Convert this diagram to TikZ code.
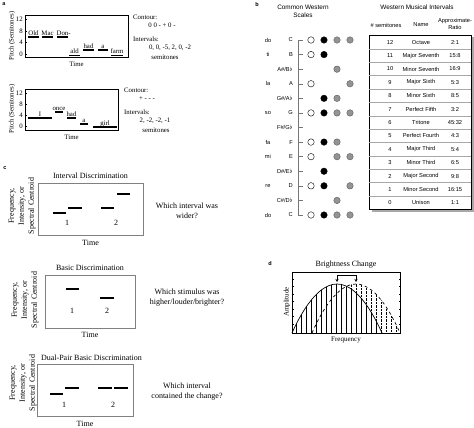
\documentclass[tikz,border=0pt]{standalone}
\usepackage{fontspec}
\setmainfont{Liberation Serif}
\newfontfamily\arialfont{Liberation Sans}
\usepackage{tikz}
\usetikzlibrary{arrows.meta,positioning}
\definecolor{dotgray}{rgb}{0.58,0.58,0.58}
\definecolor{framegray}{rgb}{0.50,0.50,0.50}
\definecolor{rulegray}{rgb}{0.66,0.66,0.66}
\newcommand{\fsa}{\fontsize{6.8}{7.5}\selectfont}
\newcommand{\fsc}{\fontsize{8}{10}\selectfont}
\newcommand{\fsb}{\fontsize{5.7}{6.5}\selectfont\arialfont}
\newcommand{\fsbt}{\fontsize{6.4}{8}\selectfont\arialfont}

\begin{document}
\begin{tikzpicture}[x=1pt,y=-1pt,
    panel/.style={font=\fontsize{5.5}{6}\selectfont\arialfont\bfseries,inner sep=0pt},
    pitchbox/.style={draw,line width=0.5pt,inner sep=0pt},
    taskbox/.style={draw=framegray,line width=0.9pt,inner sep=0pt},
    note/.style={line width=1.2pt},
    tone/.style={line width=1.3pt},
    word/.style={font=\fsa,inner sep=0pt,anchor=base},
    ticklab/.style={font=\fsa,inner sep=0pt,anchor=east},
    txta/.style={font=\fsa,inner sep=0pt},
    txtc/.style={font=\fsc,inner sep=0pt,align=center},
    scaledot/.style={circle,draw,line width=0.4pt,minimum size=6.5pt,inner sep=0pt},
    cell/.style={font=\fsb,inner sep=0pt}]
\useasboundingbox (0,0) rectangle (474,428);

% ---------- panel a ----------
\node[panel] (la) at (4,4) {a};
\node[pitchbox,minimum width=103pt,minimum height=42pt] (boxa) at (76.5,36) {};
\node[txta,rotate=90] (pitcha) at (12,36) {Pitch (Semitones)};
\foreach \v/\yy in {12/19.5,8/31,4/42.5,0/54} {
  \node[ticklab] (ta\v) at (23,\yy) {\v};
  \draw[line width=0.4pt] (25,\yy) -- (27,\yy);
}
\foreach \xa/\xb/\yy/\w [count=\i] in {28/39/37/Old,42/53/37/Mac,57/68/37/Don\rlap{-},
    69/80/55.5/ald,83/94/50/had,98/108/50/a,111/123/55.5/farm} {
  \draw[note] (\xa,\yy) -- (\xb,\yy);
  \node[word] (wa\i) at ({(\xa+\xb)/2},{\yy-1.8}) {\w};
}
\node[txta,below=4.5pt of boxa] (timea) {Time};
\node[txta,anchor=west] (cona) at (133,17) {Contour:};
\node[txta] (cva) at (162,25) {0 0 - + 0 -};
\node[txta,anchor=west] (inta) at (133,39) {Intervals:};
\node[txta] (iva) at (170,48) {0, 0, -5, 2, 0, -2};
\node[txta] (sma) at (165,57) {semitones};

\node[pitchbox,minimum width=93pt,minimum height=41pt] (boxb) at (71.5,109.5) {};
\node[txta,rotate=90] (pitchb) at (12,109) {Pitch (Semitones)};
\foreach \v/\yy in {12/93,8/104,4/115,0/126} {
  \node[ticklab] (tb\v) at (23,\yy) {\v};
  \draw[line width=0.4pt] (25,\yy) -- (27,\yy);
}
\foreach \xa/\xb/\yy/\w [count=\i] in {28/52/118/I,55/63/112/once,67/76/118/had,
    80/88/124/a,93/117/127/girl} {
  \draw[note] (\xa,\yy) -- (\xb,\yy);
  \node[word] (wb\i) at ({(\xa+\xb)/2},{\yy-1.8}) {\w};
}
\node[txta,below=4.5pt of boxb] (timeb) {Time};
\node[txta,anchor=west] (conb) at (124,90) {Contour:};
\node[txta] (cvb) at (147,99) {+ - - -};
\node[txta,anchor=west] (intb) at (124,112) {Intervals:};
\node[txta] (ivb) at (155,121) {2, -2, -2, -1};
\node[txta] (smb) at (156,130) {semitones};

% ---------- panel b ----------
\node[panel] (lb) at (257,5) {b};
\node[font=\fsbt,align=center,inner sep=0pt] (scales) at (303,11) {Common Western\\Scales};
\foreach \nt [count=\i from 0] in {C,B,{A\#/B$\flat$},A,{G\#/A$\flat$},G,{F\#/G$\flat$},
    F,E,{D\#/E$\flat$},D,{C\#/D$\flat$},C} {
  \node[cell,anchor=east] (nt\i) at (293,{40+14.583*\i}) {\nt};
  \draw[rulegray!70!black,line width=0.4pt] (298,{40+14.583*\i}) -- (303,{40+14.583*\i});
}
\draw[rulegray!70!black,line width=0.4pt] (298,40) -- (298,215);
\foreach \sf/\i in {do/0,ti/1,la/3,so/5,fa/7,mi/8,re/10,do/12}
  \node[cell] (sf\i) at (268,{40+14.583*\i}) {\sf};
\foreach \i in {0,1,3,5,7,8,10,12}
  \node[scaledot,fill=white] (ma\i) at (311,{40+14.583*\i}) {};
\foreach \i in {0,1,4,5,7,9,10,12}
  \node[scaledot,fill=black] (mi\i) at (324,{40+14.583*\i}) {};
\foreach \i in {0,2,4,5,7,8,11,12}
  \node[scaledot,fill=dotgray,draw=dotgray!60!black] (ot\i) at (337,{40+14.583*\i}) {};
\foreach \i in {0,3,5,8,10,12}
  \node[scaledot,fill=dotgray,draw=dotgray!60!black] (pe\i) at (350,{40+14.583*\i}) {};

\node[font=\fsbt,inner sep=0pt] (intv) at (417,7) {Western Musical Intervals};
\node[cell] (hnum) at (386,25) {\# semitones};
\node[cell] (hname) at (421,25) {Name};
\node[cell,align=center] (hrat) at (455,24) {Approximate-\\Ratio};
\fill[rulegray] (371.5,37.5) rectangle (473.5,211.5);
\node[draw,fill=white,line width=0.4pt,minimum width=102pt,minimum height=174pt,
      inner sep=0pt] (tab) at (420,122.5) {};
\foreach \i in {1,...,12}
  \draw[rulegray,line width=0.5pt] (369.3,{35.5+13.385*\i}) -- (470.7,{35.5+13.385*\i});
\foreach \n/\nm/\r [count=\i from 0] in {12/Octave/2:1,11/Major Seventh/15:8,
    10/Minor Seventh/16:9,9/Major Sixth/5:3,8/Minor Sixth/8:5,7/Perfect Fifth/3:2,
    6/Tritone/45:32,5/Perfect Fourth/4:3,4/Major Third/5:4,3/Minor Third/6:5,
    2/Major Second/9:8,1/Minor Second/16:15,0/Unison/1:1} {
  \node[cell] (num\i) at (390,{42.2+13.385*\i}) {\n};
  \node[cell] (nam\i) at (421,{42.2+13.385*\i}) {\nm};
  \node[cell] (rat\i) at (455,{42.2+13.385*\i}) {\r};
}

% ---------- panel c ----------
\node[panel] (lc) at (5,168) {c};
\node[taskbox,minimum width=105pt,minimum height=52pt] (boxc1) at (90.5,209) {};
\node[txtc,above=3.5pt of boxc1] (titc1) {Interval Discrimination};
\node[txtc,below=4.5pt of boxc1] (timec1) {Time};
\node[txtc,rotate=90] (yc1) at (22,206) {Frequency,\\Intensity, or\\Spectral Centroid};
\node[txtc] (qc1) at (187,210.5) {Which interval was\\wider?};
\foreach \xa/\xb/\yy in {53/66/213,68/82/208,101/114/208,117/130/194}
  \draw[tone] (\xa,\yy) -- (\xb,\yy);
\node[txtc] (oc1) at (67,223) {1};
\node[txtc] (tc1) at (116,223) {2};

\node[taskbox,minimum width=90pt,minimum height=53pt] (boxc2) at (90,301.5) {};
\node[txtc,above=4pt of boxc2] (titc2) {Basic Discrimination};
\node[txtc,below=3.5pt of boxc2] (timec2) {Time};
\node[txtc,rotate=90] (yc2) at (25,300) {Frequency,\\Intensity, or\\Spectral Centroid};
\node[txtc] (qc2) at (187,297.5) {Which stimulus was\\higher/louder/brighter?};
\foreach \xa/\xb/\yy in {66/79/289,100/114/298}
  \draw[tone] (\xa,\yy) -- (\xb,\yy);
\node[txtc] (oc2) at (72,311) {1};
\node[txtc] (tc2) at (107,311) {2};

\node[taskbox,minimum width=96pt,minimum height=52pt] (boxc3) at (85,390) {};
\node[txtc,above=3pt of boxc3,xshift=6.5pt] (titc3) {Dual-Pair Basic Discrimination};
\node[txtc,below=4.5pt of boxc3] (timec3) {Time};
\node[txtc,rotate=90] (yc3) at (23,383) {Frequency,\\Intensity, or\\Spectral Centroid};
\node[txtc] (qc3) at (187,391.5) {Which interval\\contained the change?};
\foreach \xa/\xb/\yy in {50/63/394,65/79/388,98/112/388,114/128/388}
  \draw[tone] (\xa,\yy) -- (\xb,\yy);
\node[txtc] (oc3) at (64,405) {1};
\node[txtc] (tc3) at (113,405) {2};

% ---------- panel d ----------
\node[panel] (ld) at (270,264) {d};
\node[pitchbox,minimum width=108pt,minimum height=61pt] (boxd) at (346,302.5) {};
\node[txtc,above=3pt of boxd] (titd) {Brightness Change};
\node[font=\fontsize{7}{8}\selectfont,inner sep=0pt,below=3.5pt of boxd] (freqd) {Frequency};
\node[font=\fontsize{7}{8}\selectfont,inner sep=0pt,rotate=90] (ampd) at (287,302) {Amplitude};
\foreach \yy in {279,286.5,...,330} {
  \draw[line width=0.3pt] (292,\yy) -- (293.5,\yy);
  \draw[line width=0.3pt] (400,\yy) -- (398.5,\yy);
}
\begin{scope}
  \clip (312,333) parabola bend (356,284) (400,333) -- cycle;
  \foreach \x in {296,301,...,396}
    \draw[densely dotted,line width=0.4pt] (\x,333) -- (\x,282);
\end{scope}
\begin{scope}
  \clip (292,333) parabola bend (337,284) (382,333) -- cycle;
  \foreach \x in {296,301,...,396}
    \draw[line width=0.4pt] (\x,333) -- (\x,282);
\end{scope}
\draw[line width=0.7pt] (292,333) parabola bend (337,284) (382,333);
\draw[line width=0.7pt,dashed] (312,333) parabola bend (356,284) (400,333);
\coordinate (peak1) at (337,282);
\coordinate (peak2) at (356,282);
\draw[line width=0.5pt,{Stealth[length=3pt,width=3pt]}-{Stealth[length=3pt,width=3pt]}]
  (peak1) -- ++(0,-7) -| (peak2);
\end{tikzpicture}
\end{document}
